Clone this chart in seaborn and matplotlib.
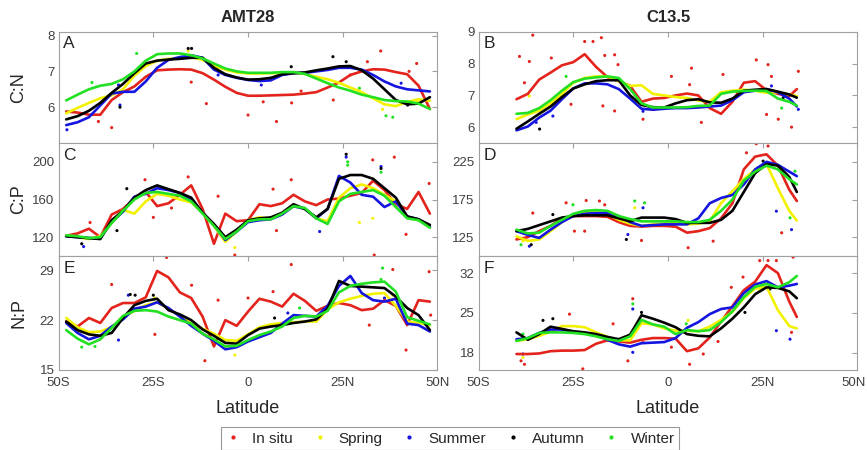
import matplotlib
matplotlib.use("Agg")
import numpy as np
import pandas as pd
import matplotlib.pyplot as plt
import matplotlib.transforms as mtransforms
from matplotlib.lines import Line2D
import seaborn as sns

# Seasons / colours (MATLAB style r, y, b, k, g)
seasons = ['In situ', 'Spring', 'Summer', 'Autumn', 'Winter']
colors = ['#e3231c', '#f2f200', '#1515e0', '#000000', '#22e022']

# ---------------- AMT28 (left column) ----------------
lat_amt = [-48, -45, -42, -39, -36, -33, -30, -27, -24, -21, -18, -15, -12, -9, -6, -3,
           0, 3, 6, 9, 12, 15, 18, 21, 24, 27, 30, 33, 36, 39, 42, 45, 48]

# C:N
cn_amt_insitu = [5.88, 5.85, 5.79, 5.79, 6.2, 6.42, 6.58, 6.85, 7.03, 7.05, 7.06, 7.05, 6.95, 6.77, 6.57, 6.4,
                 6.32, 6.32, 6.33, 6.34, 6.35, 6.38, 6.42, 6.55, 6.69, 6.9, 7.0, 7.06, 7.05, 6.98, 6.92, 6.6, 5.95]
cn_amt_spring = [5.83, 5.98, 6.12, 6.25, 6.33, 6.5, 6.88, 7.15, 7.3, 7.35, 7.38, 7.4, 7.32, 7.15, 7.05, 6.97,
                 6.94, 6.94, 6.95, 6.95, 6.95, 6.93, 6.85, 6.78, 6.68, 6.55, 6.42, 6.25, 6.08, 6.03, 6.15, 6.22, 6.18]
cn_amt_summer = [5.5, 5.58, 5.72, 6.05, 6.38, 6.43, 6.43, 6.72, 7.1, 7.32, 7.4, 7.45, 7.38, 7.05, 6.9, 6.82,
                 6.76, 6.73, 6.75, 6.9, 6.95, 6.96, 7.0, 7.04, 7.1, 7.1, 7.05, 6.9, 6.72, 6.58, 6.5, 6.47, 6.44]
cn_amt_autumn = [5.66, 5.75, 5.9, 6.12, 6.4, 6.65, 6.95, 7.22, 7.3, 7.33, 7.35, 7.38, 7.38, 7.1, 6.92, 6.83,
                 6.77, 6.78, 6.82, 6.92, 6.95, 6.97, 7.03, 7.08, 7.14, 7.15, 7.03, 6.8, 6.5, 6.2, 6.08, 6.1, 6.28]
cn_amt_winter = [6.19, 6.35, 6.5, 6.6, 6.65, 6.78, 7.0, 7.3, 7.48, 7.5, 7.5, 7.45, 7.36, 7.22, 7.08, 7.0,
                 6.96, 6.96, 6.96, 6.98, 6.98, 6.93, 6.8, 6.67, 6.55, 6.46, 6.35, 6.28, 6.2, 6.17, 6.16, 6.1, 5.95]

# C:P
cp_amt_insitu = [121.5, 124, 129, 120, 144, 150, 161, 168, 153, 156, 165, 175, 150, 113, 145, 137,
                 138, 155, 153, 156, 165, 158, 154, 160, 161, 164, 167, 180, 170, 155, 150, 168, 145]
cp_amt_spring = [122, 120, 118, 121, 135, 149, 145, 158, 166, 164, 160, 157, 146, 132, 115, 126,
                 138, 141, 140, 145, 153, 150, 140, 137, 162, 172, 176, 172, 165, 158, 142, 138, 131]
cp_amt_summer = [121, 120, 119, 119, 136, 147, 163, 166, 172, 170, 167, 160, 146, 133, 117, 126,
                 136, 138, 139, 144, 153, 150, 140, 150, 185, 178, 165, 163, 152, 158, 142, 139, 131]
cp_amt_autumn = [121, 120, 119, 118, 138, 148, 162, 170, 175, 171, 167, 162, 146, 134, 120, 128,
                 138, 140, 141, 146, 155, 150, 141, 150, 182, 186, 186, 182, 172, 162, 142, 139, 133]
cp_amt_winter = [122, 121, 119, 120, 135, 148, 160, 167, 168, 166, 164, 158, 145, 132, 118, 126,
                 137, 139, 139, 145, 153, 151, 140, 134, 158, 166, 168, 170, 164, 152, 140, 138, 130]

# N:P
np_amt_insitu = [21.8, 21.1, 22.3, 21.6, 23.7, 24.4, 24.4, 25.2, 28.9, 28.0, 25.9, 25.1, 22.5, 18.3, 22.0, 21.2,
                 23.2, 25.0, 24.6, 23.9, 25.7, 24.7, 23.3, 24.0, 24.4, 24.1, 23.4, 23.6, 24.8, 24.0, 21.3, 24.8, 24.6]
np_amt_spring = [22.3, 21.0, 20.3, 20.4, 21.0, 22.4, 23.3, 24.1, 24.5, 23.6, 22.6, 21.5, 20.8, 20.1, 19.2, 19.1,
                 20.0, 21.0, 21.4, 21.6, 21.7, 21.8, 21.8, 23.5, 24.5, 25.0, 25.4, 25.7, 25.8, 24.0, 21.8, 21.6, 21.3]
np_amt_summer = [21.6, 20.2, 19.3, 19.8, 21.1, 22.1, 23.6, 23.9, 24.5, 23.7, 22.5, 21.2, 20.1, 19.1, 17.9, 18.2,
                 19.0, 19.6, 20.2, 21.5, 22.7, 22.6, 22.5, 24.0, 26.8, 28.2, 25.8, 24.8, 24.6, 25.0, 21.5, 21.3, 20.4]
np_amt_autumn = [21.8, 20.6, 20.0, 19.8, 20.2, 22.3, 24.1, 24.7, 25.0, 23.4, 22.8, 22.0, 20.7, 19.8, 18.8, 18.7,
                 19.9, 20.8, 21.1, 21.3, 21.6, 21.8, 22.1, 23.6, 27.5, 26.8, 26.7, 26.6, 26.5, 25.3, 23.7, 22.7, 20.6]
np_amt_winter = [20.6, 19.4, 18.6, 19.3, 20.9, 22.6, 23.3, 23.4, 23.2, 22.5, 22.0, 21.5, 20.1, 19.3, 18.3, 18.4,
                 19.2, 19.9, 20.4, 21.1, 22.3, 22.6, 22.5, 23.3, 25.9, 26.8, 27.1, 27.3, 27.4, 26.0, 22.4, 21.9, 21.4]

# ---------------- C13.5 (right column) ----------------
lat_c135 = [-40, -37, -34, -31, -28, -25, -22, -19, -16, -13, -10, -7, -4, -1,
            2, 5, 8, 11, 14, 17, 20, 23, 26, 29, 32, 34]

cn_c135_insitu = [6.88, 7.05, 7.5, 7.72, 7.95, 8.05, 8.3, 7.9, 7.58, 7.45, 7.3, 6.8, 6.9, 6.92,
                  7.0, 7.06, 7.0, 6.6, 6.42, 6.8, 7.4, 7.45, 7.16, 7.05, 6.98, 7.2]
cn_c135_spring = [6.25, 6.4, 6.52, 6.75, 7.05, 7.4, 7.55, 7.6, 7.6, 7.45, 7.3, 7.32, 7.05, 7.0,
                  6.95, 6.92, 6.84, 6.8, 7.1, 7.15, 7.18, 7.15, 7.08, 7.1, 7.03, 6.98]
cn_c135_summer = [5.9, 6.02, 6.3, 6.52, 6.88, 7.22, 7.38, 7.38, 7.35, 7.2, 6.9, 6.58, 6.55, 6.58,
                  6.6, 6.6, 6.62, 6.65, 6.68, 6.85, 7.1, 7.15, 7.2, 7.1, 6.9, 6.65]
cn_c135_autumn = [5.95, 6.18, 6.42, 6.65, 6.95, 7.22, 7.35, 7.45, 7.48, 7.48, 7.0, 6.7, 6.63, 6.62,
                  6.75, 6.85, 6.88, 6.78, 6.77, 6.9, 7.15, 7.18, 7.2, 7.12, 7.03, 6.93]
cn_c135_winter = [6.42, 6.45, 6.6, 6.85, 7.15, 7.42, 7.53, 7.57, 7.6, 7.55, 7.2, 6.75, 6.62, 6.62,
                  6.62, 6.63, 6.67, 6.68, 7.05, 7.12, 7.14, 7.15, 7.14, 6.9, 6.8, 6.68]

cp_c135_insitu = [122, 125, 133, 140, 150, 153, 153, 153, 152, 145, 140, 139, 140, 140,
                  139, 131, 133, 137, 150, 170, 215, 232, 235, 220, 188, 173]
cp_c135_spring = [126, 120, 122, 133, 145, 155, 158, 158, 156, 148, 143, 140, 142, 143,
                  144, 142, 143, 146, 170, 186, 202, 215, 222, 190, 160, 147]
cp_c135_summer = [133, 128, 124, 135, 145, 153, 156, 157, 157, 153, 145, 140, 141, 142,
                  142, 142, 150, 170, 177, 181, 195, 215, 225, 221, 212, 206]
cp_c135_autumn = [133, 136, 141, 146, 151, 153, 154, 154, 154, 150, 146, 151, 151, 151,
                  149, 144, 144, 144, 148, 160, 185, 210, 222, 220, 205, 185]
cp_c135_winter = [135, 130, 131, 140, 148, 156, 160, 161, 160, 153, 149, 146, 146, 146,
                  146, 145, 145, 148, 160, 175, 200, 212, 220, 215, 202, 195]

np_c135_insitu = [17.8, 17.8, 17.9, 18.3, 18.4, 18.4, 18.5, 19.6, 20.2, 20.0, 19.8, 20.3, 20.6, 20.6,
                  20.5, 18.3, 18.8, 20.7, 23.5, 26.2, 29.0, 30.5, 33.4, 32.0, 27.0, 24.3]
np_c135_spring = [20.1, 20.4, 21.0, 21.7, 22.7, 22.7, 22.5, 21.6, 20.8, 20.2, 20.2, 23.2, 23.0, 22.3,
                  21.9, 21.9, 21.8, 22.6, 23.8, 25.2, 27.6, 29.3, 29.6, 25.5, 22.7, 22.3]
np_c135_summer = [20.4, 20.6, 21.5, 22.1, 22.1, 21.7, 21.4, 21.2, 20.3, 19.5, 19.1, 19.7, 19.8, 19.9,
                  20.6, 22.4, 23.4, 24.8, 25.7, 26.0, 28.5, 30.0, 30.6, 29.5, 29.8, 30.1]
np_c135_autumn = [21.6, 20.3, 21.3, 22.6, 22.2, 21.8, 21.6, 21.3, 20.8, 20.4, 21.2, 24.6, 24.0, 23.3,
                  22.5, 21.3, 21.0, 20.9, 22.3, 24.0, 26.0, 28.3, 29.5, 29.4, 28.8, 27.6]
np_c135_winter = [20.1, 20.6, 21.5, 21.6, 21.6, 21.5, 21.3, 20.9, 20.4, 20.1, 20.9, 23.8, 23.0, 22.6,
                  21.3, 22.0, 21.8, 22.0, 23.4, 25.3, 27.8, 29.6, 30.1, 29.5, 30.4, 31.5]

# ---------------- individual samples (dots) ----------------
dots_A = [(-39.5, 5.6, 'In situ'), (-36, 5.43, 'In situ'), (-15, 6.7, 'In situ'), (-11, 6.1, 'In situ'),
          (0, 5.78, 'In situ'), (4, 6.15, 'In situ'), (7.5, 5.6, 'In situ'), (11.5, 6.12, 'In situ'),
          (14, 6.45, 'In situ'), (22.5, 6.2, 'In situ'), (27, 6.9, 'In situ'), (31.5, 7.27, 'In situ'),
          (35, 7.57, 'In situ'), (42.5, 7.0, 'In situ'), (44.5, 7.22, 'In situ'),
          (-15.8, 7.57, 'Spring'), (35.5, 5.94, 'Spring'), (44.7, 6.16, 'Spring'),
          (-47.8, 5.37, 'Summer'), (-34.2, 6.62, 'Summer'), (-33.8, 6.06, 'Summer'), (-7.9, 6.9, 'Summer'),
          (3.5, 6.62, 'Summer'), (40.4, 6.67, 'Summer'),
          (-15.8, 7.64, 'Autumn'), (-14.9, 7.64, 'Autumn'), (-33.8, 6.0, 'Autumn'), (11.4, 7.13, 'Autumn'),
          (22.4, 7.41, 'Autumn'), (25.9, 7.27, 'Autumn'), (42.1, 6.06, 'Autumn'),
          (-41.2, 6.69, 'Winter'), (-29.4, 7.5, 'Winter'), (29.4, 6.53, 'Winter'), (36.4, 5.76, 'Winter'),
          (38.2, 5.72, 'Winter')]
dots_B = [(-39.2, 8.23, 'In situ'), (-36.6, 8.07, 'In situ'), (-37.9, 7.4, 'In situ'), (-35.7, 8.9, 'In situ'),
          (-30.8, 8.18, 'In situ'), (-25.6, 6.72, 'In situ'), (-22, 8.7, 'In situ'), (-19.8, 8.7, 'In situ'),
          (-17.6, 8.82, 'In situ'), (-16.7, 8.26, 'In situ'), (-14.1, 8.28, 'In situ'), (-13.2, 7.97, 'In situ'),
          (-17.2, 6.67, 'In situ'), (-14.1, 6.51, 'In situ'), (-6.6, 6.25, 'In situ'), (0.9, 7.6, 'In situ'),
          (5.7, 7.34, 'In situ'), (6.2, 7.86, 'In situ'), (8.8, 6.15, 'In situ'), (14.5, 7.66, 'In situ'),
          (23.3, 8.12, 'In situ'), (26.4, 7.97, 'In situ'), (27.3, 7.6, 'In situ'), (26, 6.4, 'In situ'),
          (29.1, 6.25, 'In situ'), (32.6, 6.0, 'In situ'), (34.4, 7.76, 'In situ'),
          (-36.6, 6.98, 'Spring'),
          (-30.4, 6.35, 'Summer'), (-34.8, 6.15, 'Summer'), (-6.6, 6.5, 'Summer'), (34.4, 6.56, 'Summer'),
          (27.3, 7.3, 'Summer'),
          (-33.9, 5.94, 'Autumn'), (30.4, 6.93, 'Autumn'),
          (-26.9, 7.6, 'Winter'), (30, 6.6, 'Winter')]
dots_C = [(-41.7, 135.6, 'In situ'), (-27.2, 181, 'In situ'), (-25, 141, 'In situ'), (-20.2, 151, 'In situ'),
          (-15.8, 184, 'In situ'), (-7.9, 163.5, 'In situ'), (-3.5, 101, 'In situ'), (6.6, 171, 'In situ'),
          (11.4, 181, 'In situ'), (7.5, 127, 'In situ'), (32.9, 202, 'In situ'), (38.6, 205, 'In situ'),
          (47.8, 177, 'In situ'), (41.7, 123, 'In situ'), (33.3, 101, 'In situ'),
          (29.4, 135.6, 'Spring'), (32.9, 140, 'Spring'), (-3.5, 109, 'Spring'),
          (25.9, 205, 'Summer'), (35.1, 195, 'Summer'), (18.9, 126, 'Summer'), (-43.4, 110, 'Summer'),
          (-32, 171.5, 'Autumn'), (25.9, 208, 'Autumn'), (35.1, 193, 'Autumn'), (-43.9, 113, 'Autumn'),
          (-34.6, 127, 'Autumn'),
          (26.3, 200, 'Winter'), (35.1, 189, 'Winter'), (26.3, 196.5, 'Winter')]
dots_D = [(-35.7, 157, 'In situ'), (-26.9, 170.6, 'In situ'), (-24.7, 133, 'In situ'), (-21.6, 173.7, 'In situ'),
          (-18.1, 173, 'In situ'), (-16.7, 168, 'In situ'), (-22, 133, 'In situ'), (-7, 120.6, 'In situ'),
          (1.3, 139.6, 'In situ'), (5.3, 111, 'In situ'), (11.9, 119.7, 'In situ'), (20.7, 237, 'In situ'),
          (23.3, 249, 'In situ'), (26.4, 246, 'In situ'), (30, 130.8, 'In situ'),
          (-8.8, 164, 'Spring'), (-38.3, 120, 'Spring'),
          (-36.6, 113, 'Summer'), (28.6, 159.5, 'Summer'), (32.6, 135, 'Summer'), (-10.6, 128.5, 'Summer'),
          (-6.6, 164, 'Summer'),
          (-36.1, 115, 'Autumn'), (-30.4, 155, 'Autumn'), (25.1, 226, 'Autumn'), (-11, 122, 'Autumn'),
          (-38.8, 115, 'Winter'), (-25.1, 168, 'Winter'), (-8.8, 173, 'Winter'), (-6.2, 170.6, 'Winter'),
          (32.2, 150.7, 'Winter'), (33.5, 212.6, 'Winter')]
dots_E = [(-36, 27, 'In situ'), (-24.6, 20, 'In situ'), (-21.5, 30.8, 'In situ'), (-14.9, 26.9, 'In situ'),
          (-7.9, 24.8, 'In situ'), (0, 25.1, 'In situ'), (-11.4, 16.3, 'In situ'), (11.4, 29.8, 'In situ'),
          (6.6, 26, 'In situ'), (32, 21.3, 'In situ'), (38.2, 29.1, 'In situ'), (41.7, 17.8, 'In situ'),
          (47.8, 28.8, 'In situ'), (48.2, 22.7, 'In situ'),
          (-24.6, 25.1, 'Spring'), (-3.5, 17.1, 'Spring'), (38.2, 25.5, 'Spring'),
          (-34.2, 19.2, 'Summer'), (-31.6, 25.5, 'Summer'), (10.5, 23, 'Summer'), (36, 25.1, 'Summer'),
          (-31.1, 25.6, 'Autumn'), (-29.8, 25.5, 'Autumn'), (-25, 25.5, 'Autumn'), (7, 22.3, 'Autumn'),
          (13.6, 22.5, 'Autumn'),
          (35.5, 29.3, 'Winter'), (35.1, 27.7, 'Winter'), (-40.4, 18.3, 'Winter'), (-43.9, 18.2, 'Winter'),
          (13.6, 23.7, 'Winter')]
dots_F = [(-38.8, 16.6, 'In situ'), (-37.9, 16.0, 'In situ'), (-26, 24.8, 'In situ'), (-22.5, 15.2, 'In situ'),
          (-14.5, 23.1, 'In situ'), (-10.6, 16.6, 'In situ'), (-9.3, 27.5, 'In situ'), (-6.6, 19.8, 'In situ'),
          (0.9, 19, 'In situ'), (5.7, 16, 'In situ'), (9.3, 17.8, 'In situ'), (13.2, 20, 'In situ'),
          (16.7, 29.5, 'In situ'), (19.8, 31.3, 'In situ'), (24.2, 34.2, 'In situ'), (26.4, 34.2, 'In situ'),
          (28.6, 34.2, 'In situ'), (33, 34.8, 'In situ'), (32.6, 21.6, 'In situ'),
          (5.3, 23.7, 'Spring'), (24.2, 28.9, 'Spring'), (-38.3, 17.2, 'Spring'),
          (-38.3, 17.8, 'Summer'), (-9.3, 18.1, 'Summer'), (28.6, 21.9, 'Summer'), (32.2, 20.4, 'Summer'),
          (-9.3, 25.7, 'Summer'),
          (-33, 23.7, 'Autumn'), (-30.4, 24.0, 'Autumn'), (-7, 25.1, 'Autumn'), (20.3, 25.1, 'Autumn'),
          (26.9, 29.2, 'Autumn'),
          (-9.3, 26.6, 'Winter'), (4.8, 23.1, 'Winter'), (26.9, 29.8, 'Winter'), (-38.3, 21.3, 'Winter')]

xticks = [-50, -25, 0, 25, 50]
xticklabels = ['50S', '25S', '0', '25N', '50N']

panels = [
    # letter, row, col, lat, series, dots, ylim, yticks
    ('A', 0, 0, lat_amt, [cn_amt_insitu, cn_amt_spring, cn_amt_summer, cn_amt_autumn, cn_amt_winter],
     dots_A, (5.0, 8.1), [6, 7, 8]),
    ('B', 0, 1, lat_c135, [cn_c135_insitu, cn_c135_spring, cn_c135_summer, cn_c135_autumn, cn_c135_winter],
     dots_B, (5.5, 9.0), [6, 7, 8, 9]),
    ('C', 1, 0, lat_amt, [cp_amt_insitu, cp_amt_spring, cp_amt_summer, cp_amt_autumn, cp_amt_winter],
     dots_C, (100, 220), [120, 160, 200]),
    ('D', 1, 1, lat_c135, [cp_c135_insitu, cp_c135_spring, cp_c135_summer, cp_c135_autumn, cp_c135_winter],
     dots_D, (100, 250), [125, 175, 225]),
    ('E', 2, 0, lat_amt, [np_amt_insitu, np_amt_spring, np_amt_summer, np_amt_autumn, np_amt_winter],
     dots_E, (15, 31), [15, 22, 29]),
    ('F', 2, 1, lat_c135, [np_c135_insitu, np_c135_spring, np_c135_summer, np_c135_autumn, np_c135_winter],
     dots_F, (15, 35), [18, 25, 32]),
]

sns.set_style("white")
plt.rcParams['font.family'] = ['Liberation Sans', 'DejaVu Sans']

fig = plt.figure(figsize=(8.67, 4.5), dpi=100)
col_x = [0.0676, 0.552]
col_w = 0.437
rows = [(0.6822, 0.2467), (0.4311, 0.2511), (0.1778, 0.2533)]
palette = dict(zip(seasons, colors))
frame = '#a0a0a0'

for letter, r, c, lat, series, dots, ylim, yticks in panels:
    ax = fig.add_axes([col_x[c], rows[r][0], col_w, rows[r][1]])

    dd = pd.DataFrame(dots, columns=['lat', 'value', 'season'])
    sns.scatterplot(data=dd, x='lat', y='value', hue='season', palette=palette, hue_order=seasons,
                    s=5, linewidth=0, legend=False, ax=ax, zorder=1)

    df = pd.concat([pd.DataFrame({'lat': lat, 'value': v, 'season': s})
                    for s, v in zip(seasons, series)], ignore_index=True)
    sns.lineplot(data=df, x='lat', y='value', hue='season', palette=palette, hue_order=seasons,
                 estimator=None, sort=False, lw=1.9, legend=False, ax=ax, zorder=2)

    ax.set_xlim(-50, 50)
    ax.set_ylim(*ylim)
    ax.set_xticks(xticks)
    ax.set_yticks(yticks)
    ax.set_xlabel('')
    ax.set_ylabel('')
    ax.tick_params(direction='in', top=True, right=True, length=3.5, width=0.8,
                   color=frame, labelcolor='#404040', labelsize=9.5, pad=3)
    if r == 2:
        ax.set_xticklabels(xticklabels)
        ax.tick_params(axis='x', pad=5)
        if c == 1:
            # keep the last label inside the figure
            last = ax.get_xticklabels()[-1]
            last.set_transform(last.get_transform() +
                               mtransforms.ScaledTranslation(-4 / 100, 0, fig.dpi_scale_trans))
    else:
        ax.tick_params(labelbottom=False)
    for sp in ax.spines.values():
        sp.set_color(frame)
        sp.set_linewidth(0.8)
    ax.text(0.012, 0.96, letter, transform=ax.transAxes, fontsize=12.5, va='top', ha='left')

fig.text(col_x[0] + col_w / 2, 0.96, 'AMT28', fontsize=12, fontweight='bold', ha='center', va='center')
fig.text(col_x[1] + col_w / 2, 0.96, 'C13.5', fontsize=12, fontweight='bold', ha='center', va='center')
for lbl, yc in zip(['C:N', 'C:P', 'N:P'], [0.8056, 0.5567, 0.3044]):
    fig.text(0.022, yc, lbl, rotation=90, fontsize=13, ha='center', va='center')
fig.text(col_x[0] + col_w / 2, 0.093, 'Latitude', fontsize=13, ha='center', va='center')
fig.text(col_x[1] + col_w / 2, 0.093, 'Latitude', fontsize=13, ha='center', va='center')

handles = [Line2D([], [], marker='.', ls='', color=c, markersize=4) for c in colors]
leg = fig.legend(handles, seasons, loc='center', bbox_to_anchor=(0.519, 0.025), ncol=5,
                 frameon=True, fancybox=False, edgecolor='#808080', fontsize=11,
                 handlelength=1.0, handletextpad=0.75, columnspacing=1.25, borderpad=0.3,
                 borderaxespad=0.2)
leg.get_frame().set_linewidth(0.8)

fig.savefig('out.png', dpi=100)
